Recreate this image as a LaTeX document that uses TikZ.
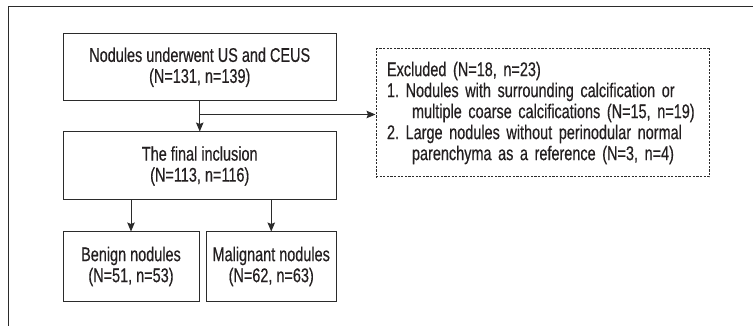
\documentclass[tikz,border=0pt]{standalone}
\usepackage{fontspec}
\setmainfont{Liberation Sans}[FakeStretch=0.73, FakeBold=0.4]
\usetikzlibrary{arrows.meta}
\definecolor{ln}{HTML}{2B2B2B}
\definecolor{tx}{HTML}{231F20}
\frenchspacing
\begin{document}
\begin{tikzpicture}[x=1pt,y=-1pt,
  box/.style={draw=ln, line width=1pt, align=center, inner sep=0pt,
    font=\fontsize{19.8}{21}\selectfont, text=tx},
  exbox/.style={draw=ln, line width=1pt, dash pattern=on 2.2pt off 1.4pt,
    align=left, inner sep=0pt, text width=311pt,
    font=\fontsize{19.8}{21}\selectfont, text=tx},
  arr/.style={draw=ln, line width=1pt, -{Stealth[length=9pt,width=7.5pt,inset=1.5pt]}}]
\useasboundingbox (0,0) rectangle (753,326);
\clip (0,0) rectangle (753,326);
\draw[ln, line width=1pt] (8,7) rectangle (780,360);
\node[box, minimum width=272.5pt, minimum height=67.5pt] (b1) at (199.75,67.25)
  {Nodules underwent US and CEUS\\(N=131, n=139)};
\node[box, minimum width=272.5pt, minimum height=68pt] (b2) at (199.75,166)
  {The final inclusion\\(N=113, n=116)};
\node[box, minimum width=136pt, minimum height=69pt] (b3) at (131,266.5)
  {Benign nodules\\(N=51, n=53)};
\node[box, minimum width=129.5pt, minimum height=69pt] (b4) at (271.25,266.5)
  {Malignant nodules\\(N=62, n=63)};
\node[exbox, minimum width=333pt, minimum height=128pt] (ex) at (542.5,113)
  {Excluded (N=18, n=23)\\
   1. Nodules with surrounding calcification or\\
   \hspace*{25pt}multiple coarse calcifications (N=15, n=19)\\
   2. Large nodules without perinodular normal\\
   \hspace*{25pt}parenchyma as a reference (N=3, n=4)};
\draw[arr] (b1.south) -- (b2.north);
\coordinate (j) at ([yshift=-13pt]b1.south);
\draw[arr] (j) -- (j -| ex.west);
\draw[arr] (b3.north |- b2.south) -- (b3.north);
\draw[arr] (b4.north |- b2.south) -- (b4.north);
\end{tikzpicture}
\end{document}
